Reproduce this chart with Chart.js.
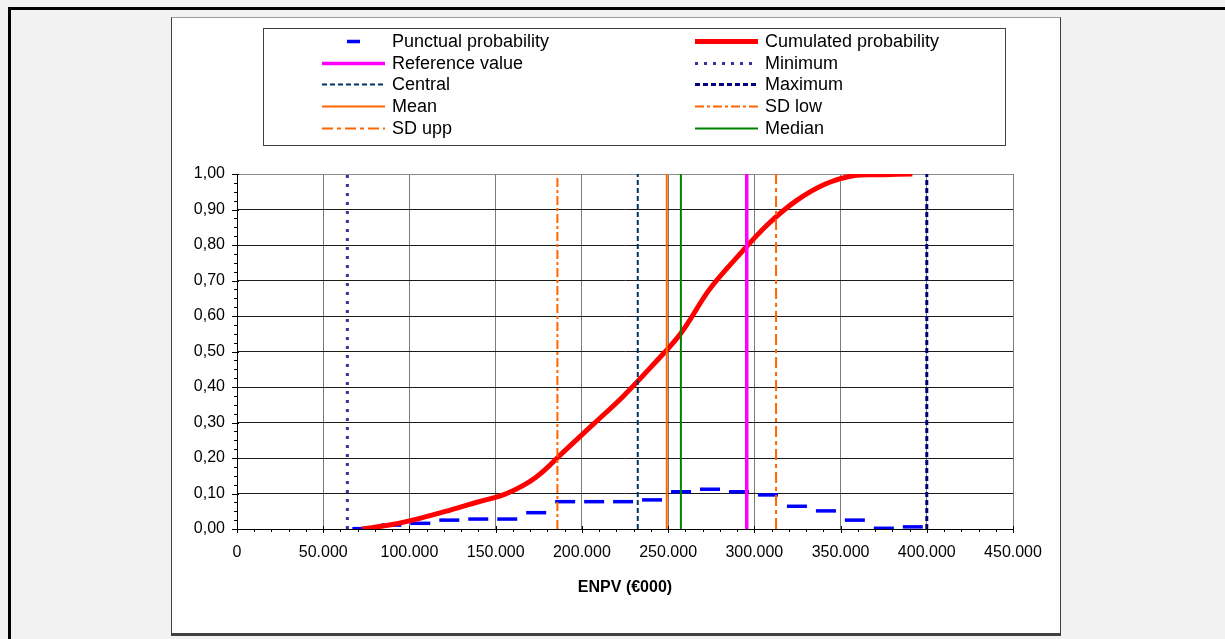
<!DOCTYPE html>
<html>
<head>
<meta charset="utf-8">
<script src="https://cdn.jsdelivr.net/npm/chart.js@4.4.1/dist/chart.umd.min.js"></script>
<style>
  html, body { margin: 0; padding: 0; background: #f2f2f2; width: 1225px; height: 639px; overflow: hidden; }
  #frame { position: absolute; left: 8px; top: 7px; width: 1300px; height: 700px; border-top: 3px solid #000; border-left: 3px solid #000; }
  #box { position: absolute; left: 171px; top: 17px; width: 888px; height: 615px; background: #fff;
         border: 1px solid #404040; border-top-color: #9a9a9a; border-bottom: 3px solid #404040; }
  #wrap { position: absolute; left: 171px; top: 17px; width: 890px; height: 617px; }
</style>
</head>
<body>
<div id="frame"></div>
<div id="box"></div>
<div id="wrap"><canvas id="enpvChart" width="890" height="617"></canvas></div>
<script>
// ─── ENPV probability distribution ───

// histogram bin edges (€000) and punctual probability of each bin
const binEdges = [64000, 80800, 97600, 114400, 131200, 148000, 164800, 181600, 198400, 215200, 232000,
                  248800, 265600, 282400, 299200, 316000, 332800, 349600, 366400, 383200, 400000];
const punctualProb = [0.001, 0.011, 0.016, 0.025, 0.028, 0.028, 0.046, 0.077, 0.077, 0.077,
                      0.082, 0.105, 0.112, 0.105, 0.096, 0.064, 0.051, 0.025, 0.002, 0.006];

// cumulated probability at the bin centres
const binCentres = [72400, 89200, 106000, 122800, 139600, 156400, 173200, 190000, 206800, 223600,
                    240400, 257200, 274000, 290800, 307600, 324400, 341200, 358000, 374800, 391600];
const cumulatedProb = [0.000, 0.012, 0.030, 0.052, 0.076, 0.100, 0.145, 0.220, 0.296, 0.372,
                       0.458, 0.550, 0.675, 0.770, 0.857, 0.925, 0.972, 0.996, 0.998, 1.000];

// summary statistics (vertical markers)
const referenceValue = 295600;
const minimumValue = 64000;
const centralValue = 232400;
const maximumValue = 400000;
const meanValue = 249200;
const sdLowValue = 185800;
const sdUppValue = 312600;
const medianValue = 257400;

const xTicks = [0, 50000, 100000, 150000, 200000, 250000, 300000, 350000, 400000, 450000];
const yTicks = [0, 0.1, 0.2, 0.3, 0.4, 0.5, 0.6, 0.7, 0.8, 0.9, 1.0];

const FONT = '"Liberation Sans", Arial, sans-serif';
Chart.defaults.font.family = FONT;
Chart.defaults.color = '#000';

// step points for the punctual probability
const stepPts = [];
punctualProb.forEach((p, i) => {
    stepPts.push({ x: binEdges[i], y: p });
    stepPts.push({ x: binEdges[i + 1], y: p });
});

function vline(label, x, color, width, dash, extra) {
    return Object.assign({
        label: label,
        data: [{ x: x, y: 0 }, { x: x, y: 1 }],
        borderColor: color,
        borderWidth: width,
        borderDash: dash,
        borderCapStyle: 'butt',
        showLine: true,
        pointRadius: 0
    }, extra || {});
}

const datasets = [
    {
        label: 'Punctual probability',
        data: stepPts,
        borderColor: '#0000ff',
        borderWidth: 3.5,
        borderDash: [20, 9],
        borderDashOffset: 24,
        legendDash: [0, 25, 13, 60],
        showLine: true,
        pointRadius: 0,
        segment: {
            // risers between bins are hidden, each bin gets its own dash
            borderColor: c => c.p0.parsed.x === c.p1.parsed.x ? 'rgba(0,0,0,0)' : '#0000ff'
        }
    },
    {
        label: 'Cumulated probability',
        data: binCentres.map((x, i) => ({ x: x, y: cumulatedProb[i] })),
        borderColor: '#ff0000',
        borderWidth: 5,
        showLine: true,
        pointRadius: 0,
        tension: 0.35
    },
    vline('Reference value', referenceValue, '#ff00ff', 3.5, []),
    vline('Minimum', minimumValue, '#333399', 3, [3, 6]),
    vline('Central', centralValue, '#003366', 2, [5, 3]),
    vline('Maximum', maximumValue, '#000080', 3, [5, 3]),
    vline('Mean', meanValue, '#ff6600', 2, []),
    vline('SD low', sdLowValue, '#ff6600', 2, [9, 3, 3, 3]),
    vline('SD upp', sdUppValue, '#ff6600', 2, [11, 4, 4, 4]),
    vline('Median', medianValue, '#008000', 2, [])
];
datasets.forEach((d, i) => { d.order = -i; });

// legend in a framed box, two columns
const boxLegend = {
    id: 'boxLegend',
    afterDraw(chart) {
        const ctx = chart.ctx;
        ctx.save();
        ctx.strokeStyle = '#404040';
        ctx.lineWidth = 1;
        ctx.strokeRect(92.5, 11.5, 742, 117);
        ctx.font = '18px ' + FONT;
        ctx.textBaseline = 'middle';
        chart.data.datasets.forEach((ds, i) => {
            const col = i % 2, row = Math.floor(i / 2);
            const x0 = col ? 524 : 151;
            const y = Math.round(24 + row * 21.7) + 0.5;
            ctx.strokeStyle = ds.borderColor;
            ctx.lineWidth = ds.borderWidth;
            ctx.lineCap = 'butt';
            ctx.setLineDash(ds.legendDash || ds.borderDash || []);
            ctx.beginPath();
            ctx.moveTo(x0, y);
            ctx.lineTo(x0 + 63, y);
            ctx.stroke();
            ctx.setLineDash([]);
            ctx.fillStyle = '#000';
            ctx.fillText(ds.label, x0 + 70, y + 1);
        });
        ctx.restore();
    }
};

// major and minor tick marks on both axes
const axisTicks = {
    id: 'axisTicks',
    afterDatasetsDraw(chart) {
        const { ctx, scales: { x, y }, chartArea: a } = chart;
        ctx.save();
        ctx.strokeStyle = '#000';
        ctx.lineWidth = 1;
        ctx.beginPath();
        for (let i = 0; i <= 45; i++) {
            const px = Math.round(x.getPixelForValue(i * 10000)) + 0.5;
            const major = i % 5 === 0;
            ctx.moveTo(px, a.bottom - (major ? 3 : 0));
            ctx.lineTo(px, a.bottom + (major ? 4 : 3));
        }
        for (let i = 0; i <= 40; i++) {
            const py = Math.round(y.getPixelForValue(i * 0.025)) + 0.5;
            const major = i % 4 === 0;
            ctx.moveTo(a.left - (major ? 5 : 3), py);
            ctx.lineTo(a.left + (major ? 2 : 0), py);
        }
        ctx.stroke();
        ctx.restore();
    }
};

new Chart(document.getElementById('enpvChart'), {
    type: 'scatter',
    data: { datasets: datasets },
    options: {
        responsive: false,
        animation: false,
        layout: { padding: { top: 157, right: 48, left: 0, bottom: 0 } },
        plugins: { legend: { display: false }, tooltip: { enabled: false } },
        scales: {
            x: {
                type: 'linear',
                min: 0,
                max: 450000,
                afterBuildTicks: s => { s.ticks = xTicks.map(v => ({ value: v })); },
                afterFit: s => { s.height = 105; },
                ticks: {
                    font: { size: 16 },
                    padding: 14,
                    maxRotation: 0,
                    callback: v => v === 0 ? '0' : (v / 1000) + '.000'
                },
                grid: { color: '#7a7a7a', drawTicks: false },
                border: { color: '#000' },
                title: {
                    display: true,
                    text: 'ENPV (€000)',
                    font: { size: 16, weight: 'bold' },
                    padding: { top: 0, bottom: 37 }
                }
            },
            y: {
                min: 0,
                max: 1,
                afterBuildTicks: s => { s.ticks = yTicks.map(v => ({ value: v })); },
                afterFit: s => { s.width = 66; },
                ticks: {
                    font: { size: 16 },
                    padding: 12,
                    callback: v => v.toFixed(2).replace('.', ',')
                },
                grid: { color: c => c.tick && c.tick.value === 1 ? '#8c8c8c' : '#1a1a1a', drawTicks: false },
                border: { color: '#000' }
            }
        }
    },
    plugins: [boxLegend, axisTicks]
});
</script>
</body>
</html>
